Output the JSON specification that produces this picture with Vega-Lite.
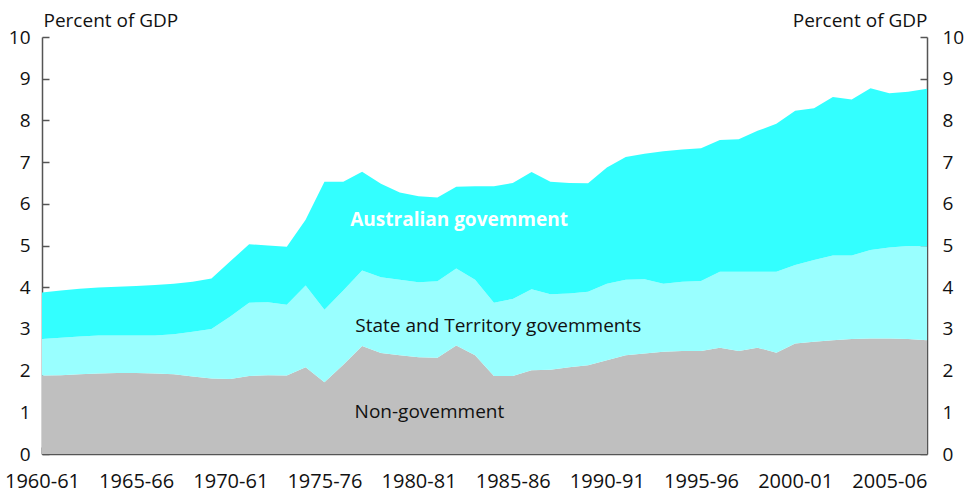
{
  "$schema": "https://vega.github.io/schema/vega-lite/v6.json",
  "width": 885,
  "height": 417,
  "autosize": "none",
  "padding": {"left": 42, "top": 37, "right": 40, "bottom": 39},
  "background": "white",
  "config": {
    "view": {"stroke": null},
    "font": "Open Sans",
    "axis": {
      "domainColor": "#555555",
      "domainWidth": 1.5,
      "tickColor": "#555555",
      "tickWidth": 1.5,
      "labelFontSize": 19,
      "labelColor": "#111111",
      "labelFont": "Open Sans",
      "titleFont": "Open Sans",
      "titleFontSize": 19,
      "titleFontWeight": "normal",
      "titleColor": "#111111",
      "grid": false
    }
  },
  "layer": [
    {
      "data": {
        "values": [
          {"year": 1960, "nongov": 1.88, "state": 0.88, "aus": 1.11},
          {"year": 1961, "nongov": 1.89, "state": 0.90, "aus": 1.13},
          {"year": 1962, "nongov": 1.91, "state": 0.91, "aus": 1.14},
          {"year": 1963, "nongov": 1.93, "state": 0.91, "aus": 1.15},
          {"year": 1964, "nongov": 1.94, "state": 0.90, "aus": 1.17},
          {"year": 1965, "nongov": 1.94, "state": 0.90, "aus": 1.19},
          {"year": 1966, "nongov": 1.93, "state": 0.91, "aus": 1.21},
          {"year": 1967, "nongov": 1.91, "state": 0.96, "aus": 1.21},
          {"year": 1968, "nongov": 1.86, "state": 1.07, "aus": 1.20},
          {"year": 1969, "nongov": 1.81, "state": 1.19, "aus": 1.21},
          {"year": 1970, "nongov": 1.80, "state": 1.50, "aus": 1.32},
          {"year": 1971, "nongov": 1.87, "state": 1.76, "aus": 1.40},
          {"year": 1972, "nongov": 1.89, "state": 1.75, "aus": 1.36},
          {"year": 1973, "nongov": 1.88, "state": 1.70, "aus": 1.39},
          {"year": 1974, "nongov": 2.08, "state": 1.96, "aus": 1.58},
          {"year": 1975, "nongov": 1.72, "state": 1.74, "aus": 3.07},
          {"year": 1976, "nongov": 2.14, "state": 1.78, "aus": 2.61},
          {"year": 1977, "nongov": 2.59, "state": 1.81, "aus": 2.37},
          {"year": 1978, "nongov": 2.42, "state": 1.82, "aus": 2.24},
          {"year": 1979, "nongov": 2.37, "state": 1.81, "aus": 2.09},
          {"year": 1980, "nongov": 2.32, "state": 1.80, "aus": 2.06},
          {"year": 1981, "nongov": 2.31, "state": 1.83, "aus": 2.01},
          {"year": 1982, "nongov": 2.60, "state": 1.85, "aus": 1.96},
          {"year": 1983, "nongov": 2.37, "state": 1.81, "aus": 2.24},
          {"year": 1984, "nongov": 1.87, "state": 1.76, "aus": 2.79},
          {"year": 1985, "nongov": 1.87, "state": 1.85, "aus": 2.78},
          {"year": 1986, "nongov": 2.01, "state": 1.94, "aus": 2.81},
          {"year": 1987, "nongov": 2.02, "state": 1.81, "aus": 2.70},
          {"year": 1988, "nongov": 2.08, "state": 1.77, "aus": 2.65},
          {"year": 1989, "nongov": 2.13, "state": 1.76, "aus": 2.60},
          {"year": 1990, "nongov": 2.25, "state": 1.83, "aus": 2.79},
          {"year": 1991, "nongov": 2.37, "state": 1.81, "aus": 2.94},
          {"year": 1992, "nongov": 2.41, "state": 1.78, "aus": 3.01},
          {"year": 1993, "nongov": 2.45, "state": 1.63, "aus": 3.18},
          {"year": 1994, "nongov": 2.47, "state": 1.66, "aus": 3.17},
          {"year": 1995, "nongov": 2.47, "state": 1.68, "aus": 3.18},
          {"year": 1996, "nongov": 2.55, "state": 1.82, "aus": 3.16},
          {"year": 1997, "nongov": 2.47, "state": 1.90, "aus": 3.18},
          {"year": 1998, "nongov": 2.55, "state": 1.82, "aus": 3.38},
          {"year": 1999, "nongov": 2.43, "state": 1.94, "aus": 3.55},
          {"year": 2000, "nongov": 2.65, "state": 1.88, "aus": 3.70},
          {"year": 2001, "nongov": 2.69, "state": 1.96, "aus": 3.64},
          {"year": 2002, "nongov": 2.73, "state": 2.03, "aus": 3.80},
          {"year": 2003, "nongov": 2.76, "state": 2.00, "aus": 3.74},
          {"year": 2004, "nongov": 2.77, "state": 2.12, "aus": 3.88},
          {"year": 2005, "nongov": 2.77, "state": 2.18, "aus": 3.70},
          {"year": 2006, "nongov": 2.76, "state": 2.23, "aus": 3.70},
          {"year": 2007, "nongov": 2.73, "state": 2.25, "aus": 3.78}
        ]
      },
      "transform": [
        {"fold": ["nongov", "state", "aus"], "as": ["series", "value"]},
        {"calculate": "indexof(['nongov','state','aus'], datum.series)", "as": "ord"}
      ],
      "mark": {"type": "area", "interpolate": "linear"},
      "encoding": {
        "x": {
          "field": "year",
          "type": "quantitative",
          "scale": {"domain": [1960, 2007], "nice": false, "zero": false},
          "axis": {
            "title": null,
            "values": [1960, 1965, 1970, 1975, 1980, 1985, 1990, 1995, 2000, 2005],
            "labelExpr": "datum.value == 1970 ? '1970-61' : datum.value + '-' + substring(toString(datum.value + 1), 2, 4)",
            "tickSize": -7,
            "labelPadding": 24,
            "labelFontSize": 20,
            "labelFlush": false,
            "labelOverlap": false
          }
        },
        "y": {
          "field": "value",
          "type": "quantitative",
          "stack": "zero",
          "scale": {"domain": [0, 10], "nice": false},
          "axis": {
            "orient": "left",
            "values": [0, 1, 2, 3, 4, 5, 6, 7, 8, 9, 10],
            "tickSize": -7,
            "labelPadding": 19,
            "title": "Percent of GDP",
            "titleAngle": 0,
            "titleAlign": "left",
            "titleBaseline": "middle",
            "titleX": 1,
            "titleY": -17
          }
        },
        "color": {
          "field": "series",
          "type": "nominal",
          "scale": {"domain": ["nongov", "state", "aus"], "range": ["#BFBFBF", "#99FFFF", "#33FFFF"]},
          "legend": null
        },
        "order": {"field": "ord", "type": "quantitative"}
      }
    },
    {
      "data": {
        "values": [
          {"label": "State and Territory govemments", "year": 1976.64, "value": 3.07},
          {"label": "Non-govemment", "year": 1976.6, "value": 1.01}
        ]
      },
      "mark": {"type": "text", "align": "left", "baseline": "middle", "fontSize": 19, "font": "Open Sans", "color": "#111111"},
      "encoding": {
        "x": {"field": "year", "type": "quantitative"},
        "y": {
          "field": "value",
          "type": "quantitative",
          "axis": {
            "orient": "right",
            "values": [0, 1, 2, 3, 4, 5, 6, 7, 8, 9, 10],
            "tickSize": -7,
            "labelPadding": 22,
            "title": "Percent of GDP",
            "titleAngle": 0,
            "titleAlign": "right",
            "titleBaseline": "middle",
            "titleX": 0,
            "titleY": -17
          }
        },
        "text": {"field": "label"}
      }
    },
    {
      "data": {
        "values": [
          {"label": "Australian govemment", "year": 1976.37, "value": 5.61}
        ]
      },
      "mark": {"type": "text", "align": "left", "baseline": "middle", "fontSize": 19, "font": "Open Sans", "fontWeight": "bold", "color": "white"},
      "encoding": {
        "x": {"field": "year", "type": "quantitative"},
        "y": {"field": "value", "type": "quantitative", "axis": null},
        "text": {"field": "label"}
      }
    }
  ],
  "resolve": {"axis": {"y": "independent"}}
}
